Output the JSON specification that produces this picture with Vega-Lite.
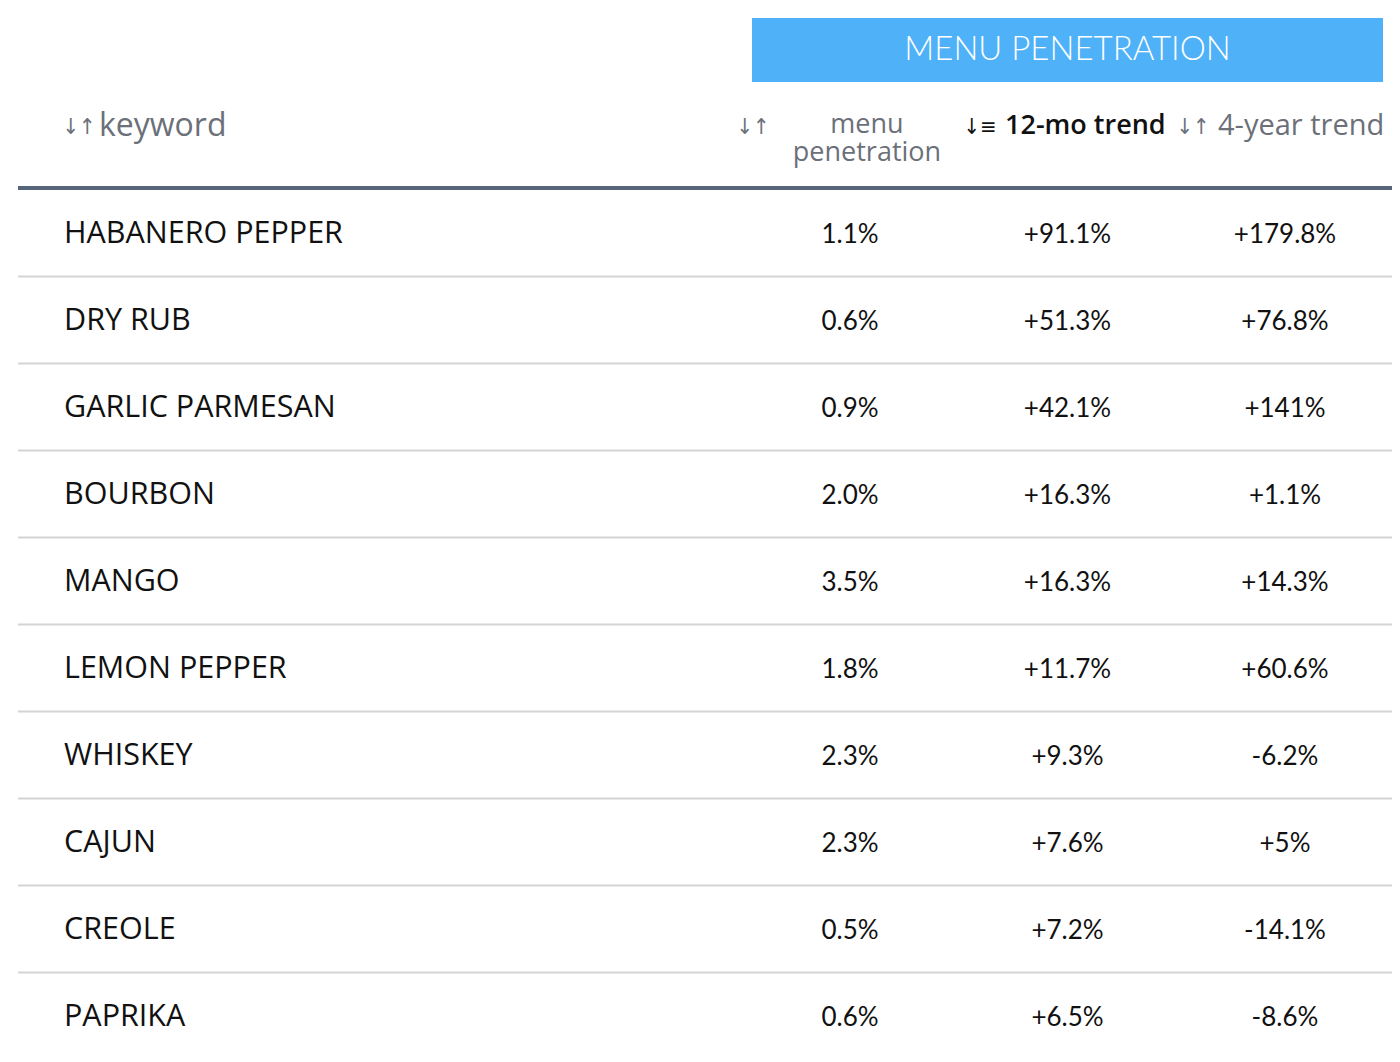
{
  "$schema": "https://vega.github.io/schema/vega-lite/v6.json",
  "width": 1400,
  "height": 1062,
  "autosize": {"type": "fit", "contains": "padding"},
  "padding": 0,
  "background": "white",
  "config": {
    "view": {"stroke": null},
    "locale": {"number": {"decimal": ".", "thousands": ",", "grouping": [3], "currency": ["$", ""], "minus": "-"}},
    "text": {"font": "Lato"}
  },
  "data": {
    "values": [
      {"row": 1, "keyword": "HABANERO PEPPER", "pen": 0.011, "t12": 0.911, "t4": 1.798},
      {"row": 2, "keyword": "DRY RUB", "pen": 0.006, "t12": 0.513, "t4": 0.768},
      {"row": 3, "keyword": "GARLIC PARMESAN", "pen": 0.009, "t12": 0.421, "t4": 1.41},
      {"row": 4, "keyword": "BOURBON", "pen": 0.020, "t12": 0.163, "t4": 0.011},
      {"row": 5, "keyword": "MANGO", "pen": 0.035, "t12": 0.163, "t4": 0.143},
      {"row": 6, "keyword": "LEMON PEPPER", "pen": 0.018, "t12": 0.117, "t4": 0.606},
      {"row": 7, "keyword": "WHISKEY", "pen": 0.023, "t12": 0.093, "t4": -0.062},
      {"row": 8, "keyword": "CAJUN", "pen": 0.023, "t12": 0.076, "t4": 0.05},
      {"row": 9, "keyword": "CREOLE", "pen": 0.005, "t12": 0.072, "t4": -0.141},
      {"row": 10, "keyword": "PAPRIKA", "pen": 0.006, "t12": 0.065, "t4": -0.086}
    ]
  },
  "encoding": {
    "y": {"field": "row", "type": "quantitative", "axis": null,
          "scale": {"domain": [-1.678, 10.529], "reverse": true, "nice": false, "zero": false}}
  },
  "layer": [
    {
      "data": {"values": [{"group": "MENU PENETRATION", "row": -1}]},
      "mark": {"type": "rect", "color": "#4fb1f7", "xOffset": -98, "x2Offset": 98, "yOffset": -41, "y2Offset": 23},
      "encoding": {
        "x": {"datum": "menu penetration", "type": "nominal", "axis": null,
              "scale": {"type": "point", "domain": ["keyword", "menu penetration", "12-mo trend", "4-year trend"], "range": [632.5, 1285], "padding": 0}},
        "x2": {"datum": "4-year trend"},
        "y2": {"field": "row"}
      }
    },
    {
      "data": {"values": [{"group": "MENU PENETRATION", "row": -1}]},
      "mark": {"type": "text", "color": "white", "fontSize": 33, "fontWeight": 300, "align": "center", "baseline": "middle", "dy": -9},
      "encoding": {
        "x": {"datum": "12-mo trend", "type": "nominal"},
        "text": {"field": "group"}
      }
    },
    {
      "data": {"values": [{"column": "keyword", "icon": "↓↑", "row": 0}]},
      "mark": {"type": "text", "font": "DejaVu Sans Condensed", "color": "#6b7079", "fontSize": 22, "align": "left", "baseline": "middle", "dx": -570, "dy": -19},
      "encoding": {"x": {"field": "column", "type": "nominal"}, "text": {"field": "icon"}}
    },
    {
      "data": {"values": [{"column": "menu penetration", "icon": "↓↑", "row": 0}]},
      "mark": {"type": "text", "font": "DejaVu Sans Condensed", "color": "#6b7079", "fontSize": 22, "align": "center", "baseline": "middle", "dx": -97, "dy": -19},
      "encoding": {"x": {"field": "column", "type": "nominal"}, "text": {"field": "icon"}}
    },
    {
      "data": {"values": [{"column": "4-year trend", "icon": "↓↑", "row": 0}]},
      "mark": {"type": "text", "font": "DejaVu Sans Condensed", "color": "#6b7079", "fontSize": 22, "align": "center", "baseline": "middle", "dx": -92, "dy": -19},
      "encoding": {"x": {"field": "column", "type": "nominal"}, "text": {"field": "icon"}}
    },
    {
      "data": {"values": [{"column": "keyword", "label": "keyword", "row": 0}]},
      "mark": {"type": "text", "font": "Open Sans", "color": "#6b7079", "fontSize": 32, "align": "left", "baseline": "middle", "dx": -533.5, "dy": -20},
      "encoding": {"x": {"field": "column", "type": "nominal"}, "text": {"field": "label"}}
    },
    {
      "data": {"values": [{"column": "menu penetration", "label": ["menu", "penetration"], "row": 0}]},
      "mark": {"type": "text", "font": "Open Sans", "color": "#6b7079", "fontSize": 27, "lineHeight": 28, "align": "center", "baseline": "middle", "dx": 17, "dy": -21},
      "encoding": {"x": {"field": "column", "type": "nominal"}, "text": {"field": "label"}}
    },
    {
      "data": {"values": [{"column": "12-mo trend", "icon": "↓≡", "row": 0}]},
      "mark": {"type": "text", "font": "DejaVu Sans Condensed", "color": "#111111", "fontSize": 22, "align": "center", "baseline": "middle", "dx": -87.5, "dy": -19},
      "encoding": {"x": {"field": "column", "type": "nominal"}, "text": {"field": "icon"}}
    },
    {
      "data": {"values": [{"column": "12-mo trend", "label": "12-mo trend", "row": 0}]},
      "mark": {"type": "text", "font": "Open Sans", "color": "#111111", "fontSize": 27, "fontWeight": 600, "align": "left", "baseline": "middle", "dx": -62.5, "dy": -20},
      "encoding": {"x": {"field": "column", "type": "nominal"}, "text": {"field": "label"}}
    },
    {
      "data": {"values": [{"column": "4-year trend", "label": "4-year trend", "row": 0}]},
      "mark": {"type": "text", "font": "Open Sans", "color": "#6b7079", "fontSize": 29, "align": "left", "baseline": "middle", "dx": -67, "dy": -20},
      "encoding": {"x": {"field": "column", "type": "nominal"}, "text": {"field": "label"}}
    },
    {
      "data": {"values": [{"row": 0.5}]},
      "mark": {"type": "rule", "color": "#56657a", "strokeWidth": 4, "xOffset": -614.5, "x2Offset": 107, "yOffset": -1.5},
      "encoding": {"x": {"datum": "keyword", "type": "nominal"}, "x2": {"datum": "4-year trend"}}
    },
    {
      "transform": [{"filter": "datum.row < 10"}],
      "mark": {"type": "rule", "color": "#d4d4d4", "strokeWidth": 2, "xOffset": -614.5, "x2Offset": 107, "yOffset": 43.5},
      "encoding": {"x": {"datum": "keyword", "type": "nominal"}, "x2": {"datum": "4-year trend"}}
    },
    {
      "mark": {"type": "text", "font": "Open Sans", "color": "#111111", "fontSize": 30.5, "align": "left", "baseline": "middle", "dx": -568.5, "dy": 1},
      "encoding": {"x": {"datum": "keyword", "type": "nominal"}, "text": {"field": "keyword"}}
    },
    {
      "mark": {"type": "text", "color": "#111111", "fontSize": 26, "align": "center", "baseline": "middle", "dy": 2},
      "encoding": {"x": {"datum": "menu penetration", "type": "nominal"}, "text": {"field": "pen", "type": "quantitative", "format": ".1%"}}
    },
    {
      "mark": {"type": "text", "color": "#111111", "fontSize": 26, "align": "center", "baseline": "middle", "dy": 2},
      "encoding": {"x": {"datum": "12-mo trend", "type": "nominal"}, "text": {"field": "t12", "type": "quantitative", "format": "+.1%"}}
    },
    {
      "mark": {"type": "text", "color": "#111111", "fontSize": 26, "align": "center", "baseline": "middle", "dy": 2},
      "encoding": {"x": {"datum": "4-year trend", "type": "nominal"}, "text": {"field": "t4", "type": "quantitative", "format": "+.1~%"}}
    }
  ]
}
